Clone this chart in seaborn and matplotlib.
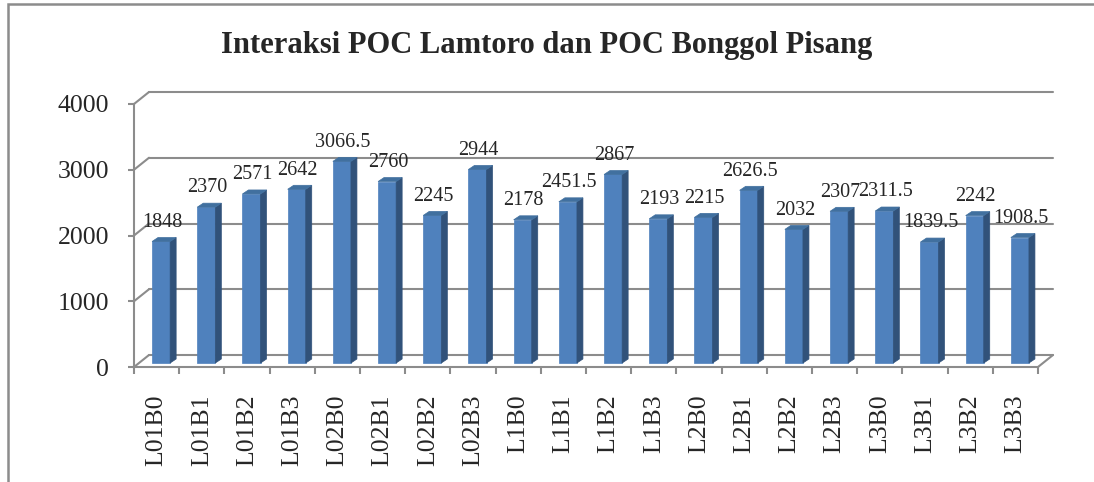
import matplotlib
matplotlib.use("Agg")
import matplotlib.pyplot as plt
import seaborn as sns
import numpy as np
from matplotlib.patches import Polygon, Rectangle
from matplotlib.lines import Line2D
from matplotlib.transforms import ScaledTranslation

labels = ["L01B0", "L01B1", "L01B2", "L01B3", "L02B0", "L02B1", "L02B2", "L02B3",
          "L1B0", "L1B1", "L1B2", "L1B3", "L2B0", "L2B1", "L2B2", "L2B3",
          "L3B0", "L3B1", "L3B2", "L3B3"]
values = [1848, 2370, 2571, 2642, 3066.5, 2760, 2245, 2944,
          2178, 2451.5, 2867, 2193, 2215, 2626.5, 2032, 2307,
          2311.5, 1839.5, 2242, 1908.5]
yticks = [0, 1000, 2000, 3000, 4000]
title = "Interaksi POC Lamtoro dan POC Bonggol Pisang"

sns.set_style("white")
plt.rcParams['font.family'] = ['Liberation Serif', 'DejaVu Serif']

W, H, DPI = 1094, 482, 100
GRID = "#8C8C8C"
FACE, SIDE, TOP = "#4F81BD", "#31527A", "#41709F"

fig = plt.figure(figsize=(W / DPI, H / DPI), dpi=DPI)
ax = fig.add_axes([134 / W, 1 - 367 / H, (1038 - 134) / W, (367 - 104) / H])
ax.patch.set_alpha(0)

sns.barplot(x=labels, y=values, color=FACE, width=0.4, saturation=1, ax=ax, zorder=3)
n = len(labels)
ax.set_xlim(-0.5, n - 0.5)
ax.set_ylim(0, 4000)

fig.canvas.draw()

# helpers for the fake 3d look (offsets in inches)
wall = np.array([0.15, 0.12])   # back wall offset
boff = np.array([0.045, 0.04])  # bar position inside the depth
depth = np.array([0.06, 0.04])  # bar thickness


def pt(x, y):
    return ax.transData.transform((x, y)) / DPI


def line(p, q):
    ax.add_line(Line2D([p[0], q[0]], [p[1], q[1]], transform=fig.dpi_scale_trans,
                       color=GRID, lw=1.5, clip_on=False, zorder=1))


# back wall gridlines + left wall diagonals + floor
for t in yticks:
    f0, f1 = pt(-0.5, t), pt(n - 0.5, t)
    line(f0, f0 + wall)
    line(f0 + wall, f1 + wall)
line(pt(n - 0.5, 0), pt(n - 0.5, 0) + wall)

# bars: shift the front face and add side and top faces
shift = ScaledTranslation(boff[0], boff[1], fig.dpi_scale_trans)
for p in list(ax.patches):
    x0, w, h = p.get_x(), p.get_width(), p.get_height()
    p.set_transform(ax.transData + shift)
    p.set_edgecolor(FACE)
    p.set_linewidth(0.5)
    a, b = pt(x0 + w, 0) + boff, pt(x0 + w, h) + boff
    side = Polygon([a, b, b + depth, a + depth], closed=True, transform=fig.dpi_scale_trans,
                   fc=SIDE, ec=SIDE, lw=0.5, clip_on=False, zorder=3)
    c = pt(x0, h) + boff
    top = Polygon([c, b, b + depth, c + depth], closed=True, transform=fig.dpi_scale_trans,
                  fc=TOP, ec=TOP, lw=0.5, clip_on=False, zorder=3)
    ax.add_patch(side)
    ax.add_patch(top)

# data labels
for i, v in enumerate(values):
    ax.annotate(f"{v:g}", (i, v), xytext=(4.0, 13.5), textcoords="offset points",
                ha="center", va="baseline", fontsize=14.5, zorder=5)

# axes styling
for s in ["top", "right"]:
    ax.spines[s].set_visible(False)
for s in ["left", "bottom"]:
    ax.spines[s].set_color(GRID)
    ax.spines[s].set_linewidth(1.5)

ax.set_yticks(yticks)
ax.set_yticklabels([str(t) for t in yticks], fontsize=18.5)
ax.tick_params(axis="y", length=4.3, width=1.5, color=GRID, pad=13.5, left=True)

ax.set_xticks(np.arange(n + 1) - 0.5)
ax.set_xticklabels([])
ax.set_xticks(np.arange(n), minor=True)
ax.set_xticklabels(labels, minor=True, rotation=90, fontsize=18.5)
ax.tick_params(axis="x", which="major", length=5, width=1.5, color=GRID, bottom=True)
ax.tick_params(axis="x", which="minor", length=0, pad=20)
ax.set_xlabel("")
ax.set_ylabel("")

fig.text(0.5, 1 - 46 / H, title, ha="center", va="center", fontsize=22, fontweight="bold")

fig.patches.append(Rectangle((8 / W, -0.1), 1.2, (H - 4) / H + 0.1, transform=fig.transFigure,
                             fill=False, ec=GRID, lw=1.8))

fig.savefig("out.png", dpi=DPI)
